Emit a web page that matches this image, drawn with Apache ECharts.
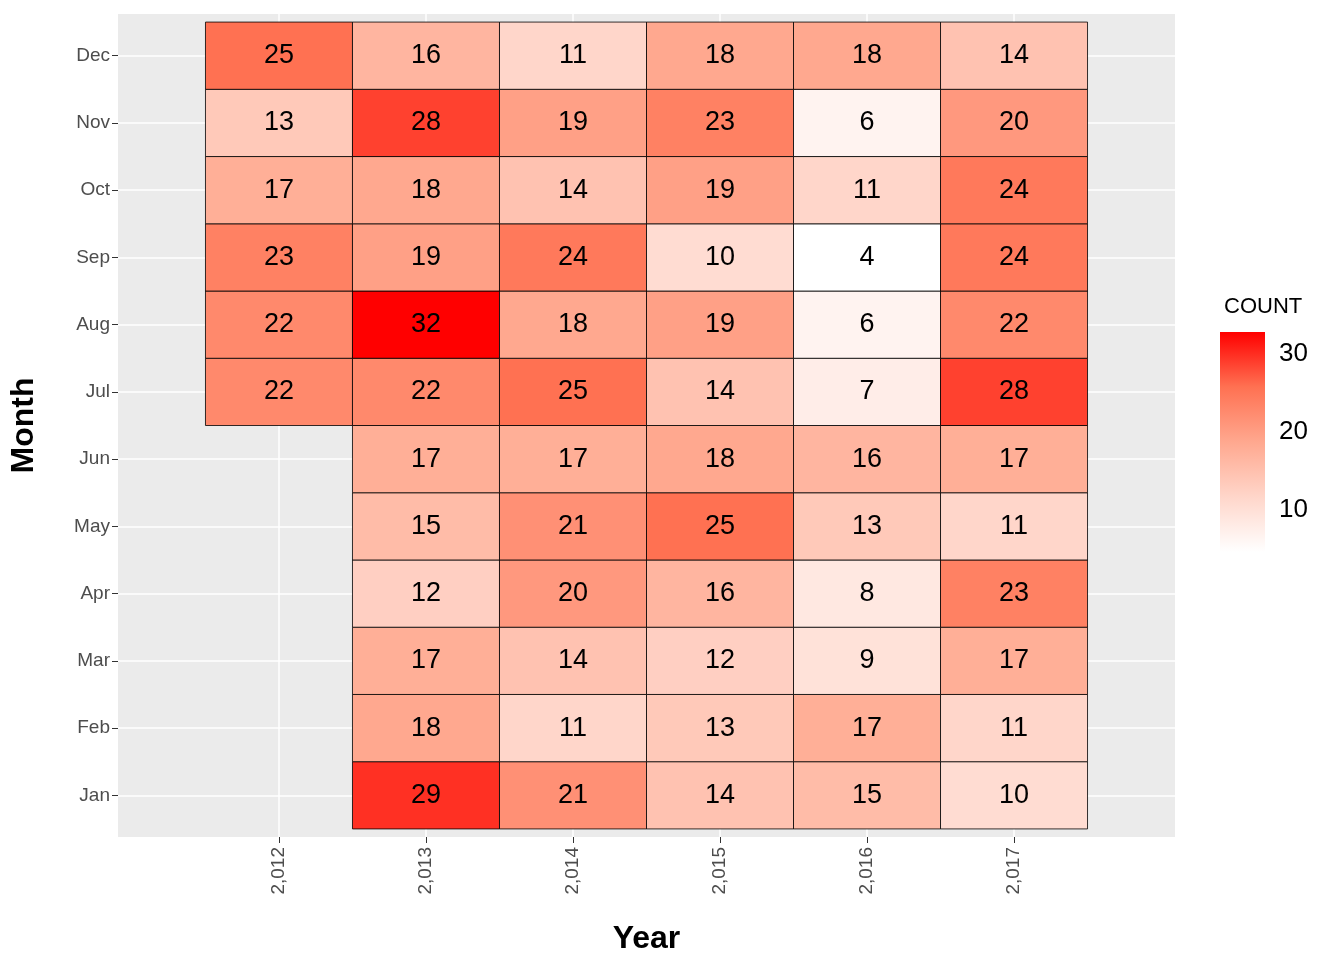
<!DOCTYPE html>
<html>
<head>
<meta charset="utf-8">
<script src="https://cdn.jsdelivr.net/npm/echarts@6/dist/echarts.min.js"></script>
<style>html,body{margin:0;background:#fff}#chart{width:1344px;height:960px}</style>
</head>
<body>
<div id="chart"></div>
<script>
var years = [2012, 2013, 2014, 2015, 2016, 2017];
var months = ['Jan', 'Feb', 'Mar', 'Apr', 'May', 'Jun', 'Jul', 'Aug', 'Sep', 'Oct', 'Nov', 'Dec'];
// counts per year, Jan..Dec (null = no data)
var c2012 = [null, null, null, null, null, null, 22, 22, 23, 17, 13, 25];
var c2013 = [29, 18, 17, 12, 15, 17, 22, 32, 19, 18, 28, 16];
var c2014 = [21, 11, 14, 20, 21, 17, 25, 18, 24, 14, 19, 11];
var c2015 = [14, 13, 12, 16, 25, 18, 14, 19, 10, 19, 23, 18];
var c2016 = [15, 17, 9, 8, 13, 16, 7, 6, 4, 11, 6, 18];
var c2017 = [10, 11, 17, 23, 11, 17, 28, 22, 24, 24, 20, 14];
var legendTicks = [10, 20, 30];

var byYear = [c2012, c2013, c2014, c2015, c2016, c2017];
var data = [];
for (var i = 0; i < years.length; i++) {
	for (var m = 0; m < 12; m++) {
		if (byYear[i][m] != null) data.push([years[i], m + 1, byYear[i][m]]);
	}
}
var monthNums = months.map(function (d, k) { return k + 1; });
var rampColors = ['#ffffff', '#ffd6ca', '#ffa88f', '#ff7152', '#ff0000'];

var myChart = echarts.init(document.getElementById('chart'));
var option = {
	animation: false,
	textStyle: { fontFamily: 'Liberation Sans, Arial' },
	title: { text: 'COUNT', left: 1219, top: 291, textStyle: { fontSize: 22, fontWeight: 'normal', color: '#000' } },
	visualMap: { show: false, min: 4, max: 32, dimension: 2, seriesIndex: 0, inRange: { color: rampColors } },
	grid: [
		{ left: 112, right: 169, top: 14, bottom: 122, show: true, backgroundColor: '#EBEBEB', borderWidth: 0 },
		{ left: 1220, width: 45, top: 332, height: 220, show: true, borderWidth: 0,
		  backgroundColor: new echarts.graphic.LinearGradient(0, 1, 0, 0, rampColors.map(function (c, k) {
			  return { offset: k / (rampColors.length - 1), color: c }; })) }
	],
	xAxis: [
		{ type: 'value', gridIndex: 0, min: 2010.905, max: 2018.095,
		  name: 'Year', nameLocation: 'middle', nameGap: 86,
		  nameTextStyle: { fontSize: 32, fontWeight: 'bold', color: '#000' },
		  axisLine: { show: false },
		  axisTick: { show: true, length: 6, lineStyle: { color: '#333' }, customValues: years },
		  axisLabel: { rotate: 90, fontSize: 19, color: '#4D4D4D', margin: 10, customValues: years },
		  splitLine: { show: true, lineStyle: { color: '#fff', width: 1.5 } } },
		{ type: 'value', gridIndex: 1, show: false, min: 0, max: 1 }
	],
	yAxis: [
		{ type: 'value', gridIndex: 0, min: 0.38, max: 12.62,
		  name: 'Month', nameLocation: 'middle', nameGap: 78,
		  nameTextStyle: { fontSize: 32, fontWeight: 'bold', color: '#000' },
		  axisLine: { show: false },
		  axisTick: { show: true, length: 6, lineStyle: { color: '#333' }, customValues: monthNums },
		  axisLabel: { fontSize: 19, color: '#4D4D4D', margin: 8, customValues: monthNums,
			  formatter: function (v) { return months[Math.round(v) - 1]; } },
		  splitLine: { show: true, lineStyle: { color: '#fff', width: 1.5 } } },
		{ type: 'value', gridIndex: 1, min: 4.6, max: 32.8, position: 'right',
		  axisLine: { show: false },
		  axisTick: { show: true, inside: true, length: 9, lineStyle: { color: '#fff', width: 1.5 }, customValues: legendTicks },
		  axisLabel: { fontSize: 26, color: '#000', margin: 14, customValues: legendTicks },
		  splitLine: { show: false } }
	],
	series: [{
		type: 'custom',
		xAxisIndex: 0, yAxisIndex: 0,
		data: data,
		encode: { x: 0, y: 1 },
		renderItem: function (params, api) {
			var c = api.coord([api.value(0), api.value(1)]);
			var s = api.size([1, 1]);
			return {
				type: 'rect',
				shape: { x: c[0] - s[0] / 2, y: c[1] - s[1] / 2, width: s[0], height: s[1] },
				style: { fill: api.visual('color'), stroke: '#000', lineWidth: 0.8 },
				textContent: { style: { text: String(api.value(2)), fontSize: 27, fill: '#000', fontFamily: 'Liberation Sans, Arial' } },
				textConfig: { position: 'inside' }
			};
		}
	}]
};
myChart.setOption(option);
</script>
</body>
</html>
